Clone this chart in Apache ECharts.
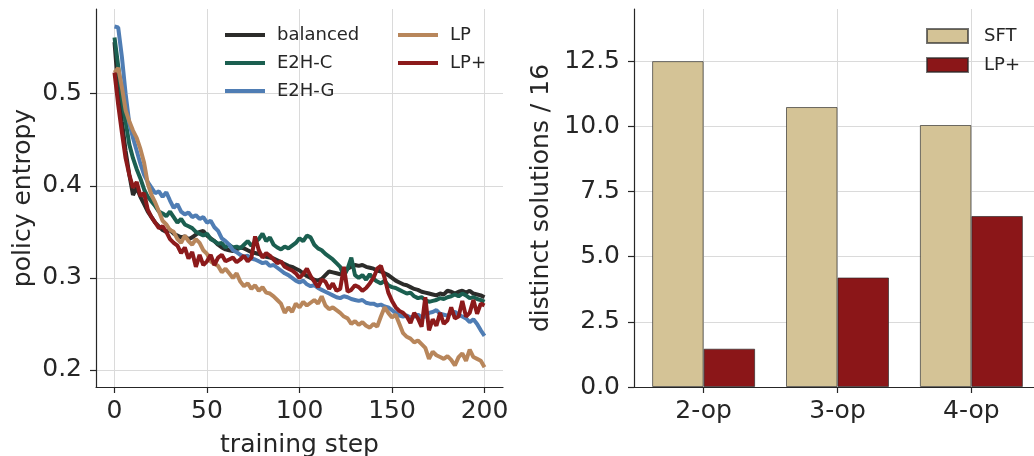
<!DOCTYPE html>
<html>
<head>
<meta charset="utf-8">
<title>policy entropy / distinct solutions</title>
<script src="https://cdn.jsdelivr.net/npm/echarts@6/dist/echarts.min.js"></script>
<style>
  html, body { margin: 0; padding: 0; background: #fff; }
  #chart { width: 1034px; height: 456px; }
</style>
</head>
<body>
<div id="chart"></div>
<script>
// training steps (every 2nd step)
const steps = [
  0, 2, 4, 6, 8, 10, 12, 14, 16, 18,
  20, 22, 24, 26, 28, 30, 32, 34, 36, 38,
  40, 42, 44, 46, 48, 50, 52, 54, 56, 58,
  60, 62, 64, 66, 68, 70, 72, 74, 76, 78,
  80, 82, 84, 86, 88, 90, 92, 94, 96, 98,
  100, 102, 104, 106, 108, 110, 112, 114, 116, 118,
  120, 122, 124, 126, 128, 130, 132, 134, 136, 138,
  140, 142, 144, 146, 148, 150, 152, 154, 156, 158,
  160, 162, 164, 166, 168, 170, 172, 174, 176, 178,
  180, 182, 184, 186, 188, 190, 192, 194, 196, 198,
  200
];

const balanced = [
  0.556, 0.505, 0.470, 0.438, 0.412, 0.390, 0.398, 0.388, 0.380, 0.372,
  0.366, 0.360, 0.356, 0.352, 0.350, 0.352, 0.348, 0.346, 0.344, 0.345,
  0.342, 0.344, 0.347, 0.350, 0.351, 0.346, 0.343, 0.340, 0.336, 0.333,
  0.331, 0.330, 0.329, 0.331, 0.333, 0.332, 0.330, 0.328, 0.327, 0.326,
  0.324, 0.323, 0.322, 0.321, 0.319, 0.317, 0.315, 0.313, 0.312, 0.310,
  0.308, 0.305, 0.302, 0.300, 0.298, 0.297, 0.299, 0.303, 0.307, 0.306,
  0.305, 0.304, 0.307, 0.310, 0.312, 0.314, 0.313, 0.314, 0.312, 0.311,
  0.310, 0.308, 0.307, 0.305, 0.303, 0.300, 0.297, 0.295, 0.293, 0.292,
  0.290, 0.288, 0.287, 0.285, 0.284, 0.283, 0.282, 0.281, 0.283, 0.282,
  0.286, 0.285, 0.283, 0.285, 0.286, 0.284, 0.286, 0.283, 0.282, 0.281,
  0.279
];

const e2hC = [
  0.561, 0.530, 0.495, 0.470, 0.445, 0.430, 0.418, 0.408, 0.396, 0.388,
  0.383, 0.378, 0.372, 0.370, 0.367, 0.372, 0.366, 0.360, 0.364, 0.358,
  0.356, 0.354, 0.350, 0.348, 0.346, 0.348, 0.342, 0.340, 0.337, 0.338,
  0.333, 0.336, 0.333, 0.334, 0.332, 0.336, 0.340, 0.335, 0.339, 0.342,
  0.348, 0.340, 0.344, 0.336, 0.333, 0.331, 0.334, 0.332, 0.335, 0.338,
  0.343, 0.340, 0.346, 0.344, 0.336, 0.332, 0.330, 0.326, 0.323, 0.320,
  0.316, 0.312, 0.302, 0.310, 0.322, 0.303, 0.300, 0.303, 0.298, 0.304,
  0.299, 0.296, 0.294, 0.297, 0.292, 0.290, 0.289, 0.287, 0.285, 0.283,
  0.284, 0.280, 0.278, 0.279, 0.276, 0.274, 0.275, 0.276, 0.278, 0.277,
  0.279, 0.280, 0.282, 0.280, 0.283, 0.281, 0.278, 0.279, 0.277, 0.276,
  0.274
];

const e2hG = [
  0.573, 0.572, 0.540, 0.500, 0.468, 0.452, 0.438, 0.424, 0.412, 0.404,
  0.398, 0.392, 0.394, 0.388, 0.393, 0.384, 0.376, 0.380, 0.372, 0.369,
  0.371, 0.366, 0.368, 0.364, 0.366, 0.360, 0.362, 0.355, 0.351, 0.343,
  0.340, 0.336, 0.330, 0.328, 0.325, 0.323, 0.324, 0.321, 0.320, 0.318,
  0.316, 0.317, 0.313, 0.314, 0.311, 0.308, 0.305, 0.303, 0.300, 0.297,
  0.295, 0.297, 0.293, 0.291, 0.292, 0.289, 0.287, 0.285, 0.283, 0.281,
  0.279, 0.278, 0.280, 0.279, 0.277, 0.276, 0.275, 0.276, 0.273, 0.272,
  0.272, 0.270, 0.271, 0.269, 0.268, 0.265, 0.262, 0.259, 0.258, 0.259,
  0.257, 0.258, 0.260, 0.257, 0.258, 0.262, 0.263, 0.265, 0.261, 0.260,
  0.259, 0.262, 0.263, 0.260, 0.258, 0.256, 0.252, 0.255, 0.250, 0.243,
  0.237
];

const lp = [
  0.523, 0.528, 0.507, 0.482, 0.470, 0.460, 0.452, 0.440, 0.425, 0.402,
  0.390, 0.382, 0.372, 0.362, 0.358, 0.352, 0.350, 0.342, 0.338, 0.346,
  0.340, 0.336, 0.342, 0.338, 0.330, 0.326, 0.318, 0.315, 0.313, 0.306,
  0.310, 0.305, 0.300, 0.305, 0.296, 0.291, 0.294, 0.288, 0.292, 0.286,
  0.290, 0.284, 0.283, 0.280, 0.276, 0.272, 0.262, 0.268, 0.263, 0.272,
  0.268, 0.274, 0.270, 0.273, 0.276, 0.272, 0.280, 0.270, 0.266, 0.268,
  0.265, 0.262, 0.258, 0.256, 0.250, 0.253, 0.249, 0.252, 0.248, 0.246,
  0.250, 0.247, 0.258, 0.268, 0.262, 0.257, 0.260, 0.250, 0.240, 0.236,
  0.234, 0.230, 0.232, 0.228, 0.224, 0.212, 0.220, 0.216, 0.214, 0.212,
  0.215, 0.211, 0.205, 0.214, 0.218, 0.210, 0.222, 0.214, 0.212, 0.210,
  0.203
];

const lpPlus = [
  0.523, 0.488, 0.458, 0.430, 0.412, 0.398, 0.404, 0.389, 0.392, 0.374,
  0.366, 0.360, 0.354, 0.356, 0.350, 0.342, 0.338, 0.335, 0.327, 0.333,
  0.321, 0.328, 0.312, 0.325, 0.314, 0.318, 0.325, 0.314, 0.322, 0.325,
  0.318, 0.320, 0.322, 0.317, 0.320, 0.324, 0.318, 0.322, 0.345, 0.330,
  0.322, 0.327, 0.324, 0.320, 0.316, 0.318, 0.312, 0.310, 0.308, 0.305,
  0.300, 0.304, 0.310, 0.302, 0.296, 0.290, 0.298, 0.296, 0.288, 0.294,
  0.286, 0.288, 0.312, 0.285, 0.287, 0.292, 0.290, 0.286, 0.289, 0.294,
  0.300, 0.310, 0.313, 0.300, 0.284, 0.275, 0.268, 0.264, 0.262, 0.258,
  0.251, 0.262, 0.256, 0.247, 0.279, 0.243, 0.255, 0.248, 0.262, 0.250,
  0.254, 0.268, 0.256, 0.258, 0.275, 0.258, 0.262, 0.276, 0.261, 0.272,
  0.270
];

// right panel
const ops = ['2-op', '3-op', '4-op'];
const sftSolutions = [12.5, 10.74, 10.05];
const lpPlusSolutions = [1.47, 4.2, 6.56];

const entropyTicksX = [0, 50, 100, 150, 200];
const entropyTicksY = [0.2, 0.3, 0.4, 0.5];
const solutionTicksY = [0, 2.5, 5, 7.5, 10, 12.5];

const textColor = '#262626';
const fontFamily = 'DejaVu Sans';
const gridColor = '#dadada';

let myChart = echarts.init(document.getElementById('chart'));

function pairs (xs, ys) {
  return xs.map((x, i) => [x, ys[i]]);
}

function lineSeries (name, values, color) {
  return {
    name: name,
    type: 'line',
    xAxisIndex: 0,
    yAxisIndex: 0,
    data: pairs(steps, values),
    showSymbol: false,
    symbol: 'none',
    lineStyle: { color: color, width: 4 },
    itemStyle: { color: color },
    animation: false
  };
}

// common axis style
const axisLine = { show: true, onZero: false, lineStyle: { color: textColor, width: 1.2 } };
const axisTick = { show: true, length: 6, lineStyle: { color: textColor, width: 1.2 } };
const splitLine = { show: true, lineStyle: { color: gridColor, width: 1 } };
const labelStyle = { color: textColor, fontSize: 25, fontFamily: fontFamily };
const nameStyle = { color: textColor, fontSize: 25, fontFamily: fontFamily };
const legendText = { color: textColor, fontSize: 18, lineHeight: 20, fontFamily: fontFamily };

let option = {
  animation: false,
  textStyle: { fontFamily: fontFamily },
  grid: [
    { left: 96, top: 9, width: 407, height: 378, outerBoundsMode: 'none' },
    { left: 634, top: 9, width: 407, height: 378, outerBoundsMode: 'none' }
  ],
  legend: [
    {
      data: ['balanced', 'E2H-C', 'E2H-G'],
      orient: 'vertical',
      left: 225,
      top: 25,
      padding: 0,
      itemWidth: 40,
      itemHeight: 4,
      itemGap: 8,
      icon: 'rect',
      textStyle: Object.assign({ padding: [0, 0, 0, 7] }, legendText)
    },
    {
      data: ['LP', 'LP+'],
      orient: 'vertical',
      left: 398,
      top: 25,
      padding: 0,
      itemWidth: 40,
      itemHeight: 4,
      itemGap: 8,
      icon: 'rect',
      textStyle: Object.assign({ padding: [0, 0, 0, 7] }, legendText)
    },
    {
      data: ['SFT', 'LP+ '],
      orient: 'vertical',
      left: 926,
      top: 26,
      padding: 0,
      itemWidth: 41,
      itemHeight: 14,
      itemGap: 9,
      icon: 'rect',
      textStyle: Object.assign({ padding: [0, 0, 0, 11] }, legendText),
      formatter: (n) => n.trim()
    }
  ],
  xAxis: [
    {
      gridIndex: 0,
      type: 'value',
      min: -10,
      max: 210,
      name: 'training step',
      nameLocation: 'middle',
      nameGap: 46,
      nameTextStyle: nameStyle,
      axisLine: axisLine,
      axisTick: Object.assign({ customValues: entropyTicksX }, axisTick),
      splitLine: splitLine,
      axisLabel: Object.assign({ customValues: entropyTicksX, margin: 12 }, labelStyle)
    },
    {
      gridIndex: 1,
      type: 'value',
      min: -0.52,
      max: 2.52,
      axisLine: axisLine,
      axisTick: Object.assign({ customValues: [0, 1, 2] }, axisTick),
      splitLine: splitLine,
      axisLabel: Object.assign({
        customValues: [0, 1, 2],
        margin: 12,
        formatter: (v) => ops[Math.round(v)]
      }, labelStyle)
    }
  ],
  yAxis: [
    {
      gridIndex: 0,
      type: 'value',
      min: 0.1815,
      max: 0.592,
      name: 'policy entropy',
      nameLocation: 'middle',
      nameGap: 60,
      nameTextStyle: nameStyle,
      axisLine: axisLine,
      axisTick: Object.assign({ customValues: entropyTicksY }, axisTick),
      splitLine: splitLine,
      axisLabel: Object.assign({
        customValues: entropyTicksY,
        margin: 14,
        formatter: (v) => v.toFixed(1)
      }, labelStyle)
    },
    {
      gridIndex: 1,
      type: 'value',
      min: 0,
      max: 14.5,
      name: 'distinct solutions / 16',
      nameLocation: 'middle',
      nameGap: 80,
      nameTextStyle: nameStyle,
      axisLine: axisLine,
      axisTick: Object.assign({ customValues: solutionTicksY }, axisTick),
      splitLine: splitLine,
      axisLabel: Object.assign({
        customValues: solutionTicksY,
        margin: 14,
        formatter: (v) => v.toFixed(1)
      }, labelStyle)
    }
  ],
  series: [
    lineSeries('balanced', balanced, '#2c2c2a'),
    lineSeries('E2H-C', e2hC, '#1b5f50'),
    lineSeries('E2H-G', e2hG, '#4f7db4'),
    lineSeries('LP', lp, '#b8865b'),
    lineSeries('LP+', lpPlus, '#8c1a1b'),
    {
      name: 'SFT',
      type: 'bar',
      xAxisIndex: 1,
      yAxisIndex: 1,
      data: pairs([0, 1, 2], sftSolutions),
      barWidth: 51.5,
      barGap: '0%',
      itemStyle: { color: '#d4c396', borderColor: 'rgba(40,40,40,0.65)', borderWidth: 1 }
    },
    {
      name: 'LP+ ',
      type: 'bar',
      xAxisIndex: 1,
      yAxisIndex: 1,
      data: pairs([0, 1, 2], lpPlusSolutions),
      barWidth: 51.5,
      barGap: '0%',
      itemStyle: { color: '#8b1618', borderColor: 'rgba(40,40,40,0.65)', borderWidth: 1 }
    }
  ]
};

myChart.setOption(option);
</script>
</body>
</html>
